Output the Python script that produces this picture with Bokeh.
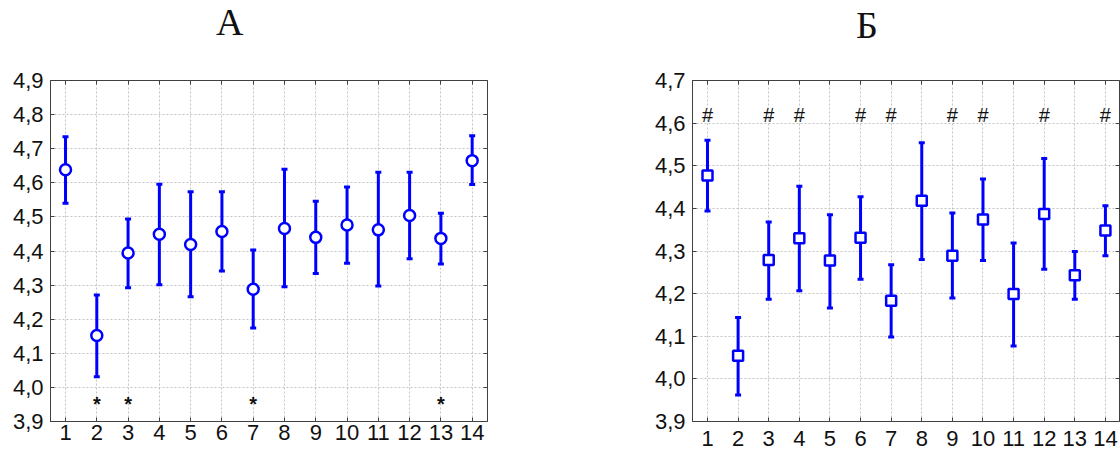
from bokeh.plotting import figure
from bokeh.models import (Range1d, FixedTicker, LinearAxis, CustomJSTickFormatter,
                          ColumnDataSource, Div)
from bokeh.layouts import row, column
from bokeh.core.properties import value
from bokeh.embed import file_html
from bokeh.resources import INLINE

# ---------------- data ----------------
panel_titles = ["А", "Б"]
groups = [1, 2, 3, 4, 5, 6, 7, 8, 9, 10, 11, 12, 13, 14]
group_labels = ["1", "2", "3", "4", "5", "6", "7", "8", "9", "10", "11", "12", "13", "14"]

a_mean = [4.638, 4.152, 4.394, 4.449, 4.419, 4.457, 4.288, 4.466, 4.440, 4.476, 4.462, 4.504, 4.437, 4.665]
a_upper = [4.735, 4.271, 4.494, 4.596, 4.574, 4.574, 4.403, 4.640, 4.546, 4.588, 4.631, 4.631, 4.511, 4.738]
a_lower = [4.540, 4.031, 4.292, 4.301, 4.266, 4.341, 4.174, 4.295, 4.334, 4.364, 4.297, 4.377, 4.362, 4.595]
a_marked = [2, 3, 7, 13]          # "*"

b_mean = [4.477, 4.054, 4.279, 4.330, 4.278, 4.331, 4.183, 4.418, 4.289, 4.374, 4.199, 4.387, 4.243, 4.348]
b_upper = [4.560, 4.144, 4.368, 4.452, 4.385, 4.427, 4.268, 4.554, 4.389, 4.469, 4.319, 4.517, 4.299, 4.406]
b_lower = [4.394, 3.962, 4.187, 4.207, 4.166, 4.234, 4.098, 4.280, 4.190, 4.278, 4.077, 4.257, 4.187, 4.289]
b_marked = [1, 3, 4, 6, 7, 9, 10, 12, 14]   # "#"

a_yticks = [3.9, 4.0, 4.1, 4.2, 4.3, 4.4, 4.5, 4.6, 4.7, 4.8, 4.9]
b_yticks = [3.9, 4.0, 4.1, 4.2, 4.3, 4.4, 4.5, 4.6, 4.7]

BLUE = "#0000ff"
FRAME = "#404040"
GRID = "#c4c4c4"
SANS = "Liberation Sans"
INK = "#111111"
HEAD_H = 45


def hidden_axis(ticker, **kw):
    return LinearAxis(ticker=ticker, major_label_text_font_size="0px",
                      major_label_text_color=None,
                      formatter=CustomJSTickFormatter(code="return '';"),
                      major_tick_in=4, major_tick_out=0, minor_tick_line_color=None,
                      axis_line_color=FRAME, major_tick_line_color=FRAME, **kw)


def make_panel(mean, upper, lower, yticks, marks, mark_text, mark_y, mark_size,
               mark_style, marker, marker_size, xr, yr, width, mb, x_standoff):
    p = figure(width=width, height=455 - HEAD_H, x_range=Range1d(*xr), y_range=Range1d(*yr),
               output_backend="svg", toolbar_location=None,
               min_border_left=mb[0], min_border_right=mb[1],
               min_border_top=mb[2], min_border_bottom=mb[3],
               outline_line_color=FRAME, outline_line_width=1,
               background_fill_color="white", border_fill_color="white")

    xt = FixedTicker(ticks=groups)
    yt = FixedTicker(ticks=yticks)
    fmt = CustomJSTickFormatter(code="return tick.toFixed(1).replace('.', ',');")

    xa = p.xaxis[0]
    xa.ticker = xt
    xa.major_label_overrides = {g: s for g, s in zip(groups, group_labels)}
    xa.major_label_text_font = SANS
    xa.major_label_text_font_size = "22px"
    xa.major_label_text_color = INK
    xa.major_label_standoff = x_standoff

    ya = p.yaxis[0]
    ya.ticker = yt
    ya.formatter = fmt
    ya.major_label_text_font = SANS
    ya.major_label_text_font_size = "22px"
    ya.major_label_text_color = INK
    ya.major_label_standoff = 7

    for ax in (xa, ya):
        ax.major_tick_in = 4
        ax.major_tick_out = 0
        ax.minor_tick_line_color = None
        ax.axis_line_color = FRAME
        ax.major_tick_line_color = FRAME

    # mirrored ticks on top and right
    p.add_layout(hidden_axis(xt, major_label_standoff=0), "above")
    p.add_layout(hidden_axis(yt, major_label_standoff=0, fixed_location=xr[1]), "right")

    p.xgrid.ticker = xt
    p.ygrid.ticker = yt
    for g in (p.xgrid, p.ygrid):
        g.grid_line_color = GRID
        g.grid_line_dash = "2 2"
        g.grid_line_width = 1

    src = ColumnDataSource(dict(x=groups, mean=mean, upper=upper, lower=lower))
    p.segment(x0="x", y0="lower", x1="x", y1="upper", source=src,
              line_color=BLUE, line_width=3)
    p.scatter(x="x", y="upper", source=src, marker="dash", size=6,
              line_color=BLUE, line_width=3)
    p.scatter(x="x", y="lower", source=src, marker="dash", size=6,
              line_color=BLUE, line_width=3)
    p.scatter(x="x", y="mean", source=src, marker=marker, size=marker_size,
              fill_color="white", line_color=BLUE, line_width=2.5)

    p.text(x=marks, y=[mark_y] * len(marks), text=[mark_text] * len(marks),
           text_align="center", text_baseline="middle",
           text_font=value(SANS), text_font_size=mark_size,
           text_font_style=mark_style, text_color=INK)
    return p


left = make_panel(a_mean, a_upper, a_lower, a_yticks, a_marked, "*", 3.952, "20px", "bold",
                  "circle", 11, (0.52, 14.49), (3.9, 4.9), 600,
                  (50, 113, 80 - HEAD_H, 28), 3)
right = make_panel(b_mean, b_upper, b_lower, b_yticks, b_marked, "#", 4.62, "20px", "normal",
                   "square", 10, (0.51, 14.46), (3.9, 4.7), 520,
                   (92, 1, 80 - HEAD_H, 34), 9)

title_pos = [(216, 3), (856, 6)]
spans = "".join(
    f'<span style="position:absolute;left:{x}px;top:{y}px;'
    f"font-family:'Liberation Serif';font-size:38px;line-height:38px;"
    f'color:{INK};white-space:nowrap;">{t}</span>'
    for t, (x, y) in zip(panel_titles, title_pos))
head = Div(text=f'<div style="position:relative;width:1120px;height:{HEAD_H}px;margin:0;padding:0;">{spans}</div>',
           width=1120, height=HEAD_H, margin=0)

page = column(head, row(left, right), spacing=0)
open("out.html", "w").write(file_html(page, INLINE))
